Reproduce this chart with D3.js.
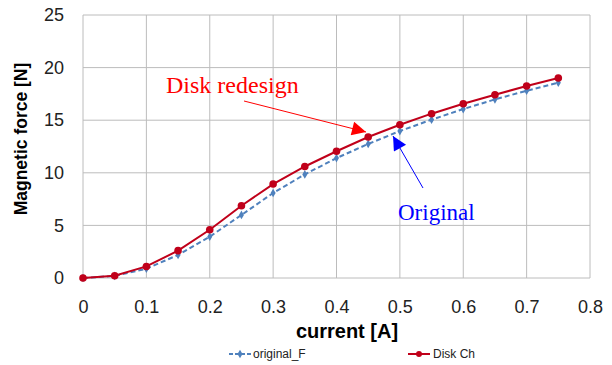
<!DOCTYPE html>
<html>
<head>
<meta charset="utf-8">
<script src="https://cdn.jsdelivr.net/npm/d3@7"></script>
<style>
  body { margin: 0; background: #fff; }
  .axis text { font-family: "Liberation Sans", Arial, sans-serif; font-size: 18px; fill: #222; }
  .axis path, .axis line { display: none; }
</style>
</head>
<body>
<div id="chart"></div>
<script>
const current = [0, 0.05, 0.1, 0.15, 0.2, 0.25, 0.3, 0.35, 0.4, 0.45, 0.5, 0.55, 0.6, 0.65, 0.7, 0.75];
const originalF = [0, 0.2, 0.88, 2.19, 3.93, 5.99, 8.08, 9.85, 11.4, 12.74, 13.97, 15.05, 16.06, 16.98, 17.8, 18.57];
const diskCh = [0, 0.22, 1.1, 2.6, 4.59, 6.87, 8.93, 10.6, 12.05, 13.4, 14.57, 15.62, 16.57, 17.42, 18.25, 19.01];
const xTicks = [0, 0.1, 0.2, 0.3, 0.4, 0.5, 0.6, 0.7, 0.8];
const yTicks = [0, 5, 10, 15, 20, 25];

const w = 612, h = 365;
const padLeft = 83, padRight = 590, padTop = 15, padBottom = 278;

const svg = d3.select('#chart').append('svg')
    .attr('width', w)
    .attr('height', h);

const xScale = d3.scaleLinear().domain([0, 0.8]).range([padLeft, padRight]);
const yScale = d3.scaleLinear().domain([0, 25]).range([padBottom, padTop]);

// grid
svg.append('g').selectAll('line')
    .data(xTicks)
    .enter().append('line')
    .attr('x1', d => xScale(d)).attr('x2', d => xScale(d))
    .attr('y1', padTop).attr('y2', padBottom)
    .attr('stroke', '#bcbcbc').attr('stroke-width', 1);
svg.append('g').selectAll('line')
    .data(yTicks)
    .enter().append('line')
    .attr('x1', padLeft).attr('x2', padRight)
    .attr('y1', d => yScale(d)).attr('y2', d => yScale(d))
    .attr('stroke', '#bcbcbc').attr('stroke-width', 1);

svg.append('g')
    .attr('class', 'axis')
    .attr('transform', `translate(0, ${padBottom})`)
    .call(d3.axisBottom(xScale).tickValues(xTicks).tickFormat(d => d === 0 ? '0' : d3.format('.1f')(d)).tickSize(0).tickPadding(22));

svg.append('g')
    .attr('class', 'axis')
    .attr('transform', `translate(${padLeft}, 0)`)
    .call(d3.axisLeft(yScale).tickValues(yTicks).tickSize(0).tickPadding(19));

// axis titles
svg.append('text')
    .attr('x', 347).attr('y', 338)
    .attr('text-anchor', 'middle')
    .style('font-family', '"Liberation Sans", Arial, sans-serif')
    .style('font-weight', 'bold').style('font-size', '20px')
    .text('current [A]');
svg.append('text')
    .attr('transform', 'translate(27, 139) rotate(-90)')
    .attr('text-anchor', 'middle')
    .style('font-family', '"Liberation Sans", Arial, sans-serif')
    .style('font-weight', 'bold').style('font-size', '17.5px')
    .text('Magnetic force [N]');

const line = d3.line()
    .x((d, i) => xScale(current[i]))
    .y(d => yScale(d));

const blue = '#4f81bd', red = '#c0001a';

svg.append('path')
    .datum(originalF)
    .attr('d', line)
    .attr('fill', 'none')
    .attr('stroke', blue)
    .attr('stroke-width', 2)
    .attr('stroke-dasharray', '5,3');

svg.append('g').selectAll('path')
    .data(originalF)
    .enter().append('path')
    .attr('d', d3.symbol().type(d3.symbolDiamond).size(22))
    .attr('transform', (d, i) => `translate(${xScale(current[i])}, ${yScale(d)})`)
    .attr('fill', blue);

svg.append('path')
    .datum(diskCh)
    .attr('d', line)
    .attr('fill', 'none')
    .attr('stroke', red)
    .attr('stroke-width', 2);

svg.append('g').selectAll('circle')
    .data(diskCh)
    .enter().append('circle')
    .attr('cx', (d, i) => xScale(current[i]))
    .attr('cy', d => yScale(d))
    .attr('r', 3.8)
    .attr('fill', red);

// annotations
const defs = svg.append('defs');
[['arrRed', '#ff0000'], ['arrBlue', '#0000ff']].forEach(([id, c]) => {
    defs.append('marker')
        .attr('id', id)
        .attr('viewBox', '0 0 10 10')
        .attr('refX', 10).attr('refY', 5)
        .attr('markerWidth', 16).attr('markerHeight', 14)
        .attr('markerUnits', 'userSpaceOnUse')
        .attr('orient', 'auto')
        .append('path')
        .attr('d', 'M0,0 L10,5 L0,10 Z')
        .attr('fill', c);
});

svg.append('line')
    .attr('x1', 244).attr('y1', 101)
    .attr('x2', 366).attr('y2', 132)
    .attr('stroke', '#ff0000').attr('stroke-width', 1)
    .attr('marker-end', 'url(#arrRed)');
svg.append('text')
    .attr('x', 166).attr('y', 93)
    .style('font-family', '"Liberation Serif", "Times New Roman", serif')
    .style('font-size', '24px')
    .attr('fill', '#ff0000')
    .text('Disk redesign');

svg.append('line')
    .attr('x1', 423).attr('y1', 188)
    .attr('x2', 393).attr('y2', 136)
    .attr('stroke', '#0000ff').attr('stroke-width', 1)
    .attr('marker-end', 'url(#arrBlue)');
svg.append('text')
    .attr('x', 398).attr('y', 220)
    .style('font-family', '"Liberation Serif", "Times New Roman", serif')
    .style('font-size', '23px')
    .attr('fill', '#0000ff')
    .text('Original');

// legend
const lg = svg.append('g')
    .style('font-family', '"Liberation Sans", Arial, sans-serif')
    .style('font-size', '12px');
lg.append('line').attr('x1', 229).attr('x2', 251).attr('y1', 354).attr('y2', 354)
    .attr('stroke', blue).attr('stroke-width', 2).attr('stroke-dasharray', '4,2');
lg.append('path').attr('d', d3.symbol().type(d3.symbolDiamond).size(22))
    .attr('transform', 'translate(240, 354)').attr('fill', blue);
lg.append('text').attr('x', 253).attr('y', 358).attr('fill', '#222').text('original_F');
lg.append('line').attr('x1', 408).attr('x2', 430).attr('y1', 354).attr('y2', 354)
    .attr('stroke', red).attr('stroke-width', 2);
lg.append('circle').attr('cx', 419).attr('cy', 354).attr('r', 3).attr('fill', red);
lg.append('text').attr('x', 433).attr('y', 358).attr('fill', '#222').text('Disk Ch');
</script>
</body>
</html>
